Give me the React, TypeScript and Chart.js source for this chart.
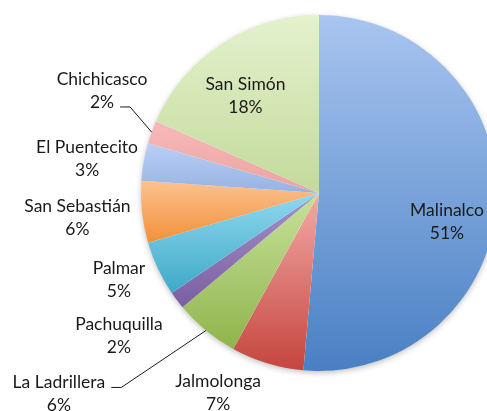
import React, { useEffect, useRef } from "react";
import { Chart, registerables } from "chart.js";

Chart.register(...registerables);

const categories = [
  "Malinalco",
  "Jalmolonga",
  "La Ladrillera",
  "Pachuquilla",
  "Palmar",
  "San Sebastián",
  "El Puentecito",
  "Chichicasco",
  "San Simón",
];
const shares = [51.4, 6.6, 5.9, 1.6, 5.0, 5.6, 3.4, 2.1, 18.4];

// gradient colours per slice: [top, bottom]
const topColors = ["#A9C5F0", "#F4AAA6", "#C8E19C", "#A690C9", "#90D8F0", "#FCC28F", "#BACFF5", "#F7BAB9", "#E4F2CD"];
const bottomColors = ["#4980C3", "#C4453E", "#90B44B", "#7A5EA2", "#3EA9C6", "#F2903A", "#97B2E2", "#EBA2A1", "#C3DA9B"];

// label block centres, in units of the pie radius relative to its centre
const labelOffsets: [number, number][] = [
  [0.719, 0.16],
  [-0.567, 1.121],
  [-1.461, 1.129],
  [-1.124, 0.801],
  [-1.124, 0.486],
  [-1.357, 0.14],
  [-1.303, -0.194],
  [-1.219, -0.576],
  [-0.413, -0.545],
];
// leader line: index of label line to attach to, or -1 for none
const leaderLine = [-1, -1, 0, -1, -1, -1, -1, 1, -1];

const FONT = "17.5px Lato";
const LINE_GAP = 23;

function geometry(chart: any) {
  const a = chart.chartArea;
  const cx = (a.left + a.right) / 2;
  const cy = (a.top + a.bottom) / 2;
  const r = Math.min(a.right - a.left, a.bottom - a.top) / 2;
  return { cx, cy, r };
}

function sliceAngles(i: number) {
  const total = shares.reduce((s, v) => s + v, 0);
  let start = 0;
  for (let k = 0; k < i; k++) start += (shares[k] / total) * Math.PI * 2;
  const end = start + (shares[i] / total) * Math.PI * 2;
  return { start, end };
}

const labelPlugin = {
  id: "sliceLabels",
  beforeDatasetsDraw(chart: any) {
    const { ctx } = chart;
    const { cx, cy, r } = geometry(chart);
    ctx.save();
    ctx.shadowColor = "rgba(0,0,0,0.28)";
    ctx.shadowBlur = 6;
    ctx.shadowOffsetY = 2;
    ctx.fillStyle = "#ffffff";
    ctx.beginPath();
    ctx.arc(cx, cy, r - 0.5, 0, Math.PI * 2);
    ctx.fill();
    ctx.restore();
  },
  afterDatasetsDraw(chart: any) {
    const { ctx } = chart;
    const { cx, cy, r } = geometry(chart);
    const total = shares.reduce((s, v) => s + v, 0);
    ctx.save();
    ctx.font = FONT;
    ctx.fillStyle = "#1a1a1a";
    ctx.textAlign = "center";
    ctx.textBaseline = "middle";
    categories.forEach((name, i) => {
      const [fx, fy] = labelOffsets[i];
      const x = cx + fx * r;
      const y = cy + fy * r;
      const pct = Math.round((shares[i] / total) * 100) + "%";
      const lines = [name, pct];
      lines.forEach((t, j) => {
        ctx.fillText(t, x, y + (j - 0.5) * LINE_GAP);
      });
      const li = leaderLine[i];
      if (li >= 0) {
        const w = ctx.measureText(lines[li]).width;
        const sx = x + w / 2 + 6;
        const sy = y + (li - 0.5) * LINE_GAP + 5;
        const { start, end } = sliceAngles(i);
        const mid = (start + end) / 2;
        const ex = cx + Math.sin(mid) * r;
        const ey = cy - Math.cos(mid) * r;
        ctx.strokeStyle = "#1a1a1a";
        ctx.lineWidth = 1;
        ctx.beginPath();
        ctx.moveTo(sx, sy);
        ctx.lineTo(sx + 10, sy);
        ctx.lineTo(ex, ey);
        ctx.stroke();
      }
    });
    ctx.restore();
  },
};

export default function App() {
  const ref = useRef<HTMLCanvasElement | null>(null);
  useEffect(() => {
    document.body.style.margin = "0";
    if (!ref.current) return;
    const chart = new Chart(ref.current, {
      type: "pie",
      data: {
        labels: categories,
        datasets: [
          {
            data: shares,
            borderWidth: 0,
            backgroundColor: (c: any) => {
              const chart = c.chart;
              const i = c.dataIndex;
              if (!chart.chartArea || i === undefined) return topColors[i ?? 0];
              const { cx, cy, r } = geometry(chart);
              const { start, end } = sliceAngles(i);
              const ys = [cy, cy - Math.cos(start) * r, cy - Math.cos(end) * r];
              if (start <= 0) ys.push(cy - r);
              if (start <= Math.PI && end >= Math.PI) ys.push(cy + r);
              const y0 = Math.min(...ys);
              const y1 = Math.max(...ys);
              const g = chart.ctx.createLinearGradient(0, y0, 0, y1);
              g.addColorStop(0, topColors[i]);
              g.addColorStop(1, bottomColors[i]);
              return g;
            },
          },
        ],
      },
      options: {
        responsive: false,
        animation: false,
        rotation: 0,
        layout: { padding: { left: 140, right: 140, top: 15, bottom: 40 } },
        plugins: { legend: { display: false }, tooltip: { enabled: false } },
      },
      plugins: [labelPlugin],
    });
    return () => chart.destroy();
  }, []);
  return (
    <div style={{ position: "fixed", left: 0, top: 0, width: 487, height: 411, overflow: "hidden", background: "#fff" }}>
      <canvas ref={ref} width={638} height={411} style={{ width: 638, height: 411, display: "block" }} />
    </div>
  );
}
